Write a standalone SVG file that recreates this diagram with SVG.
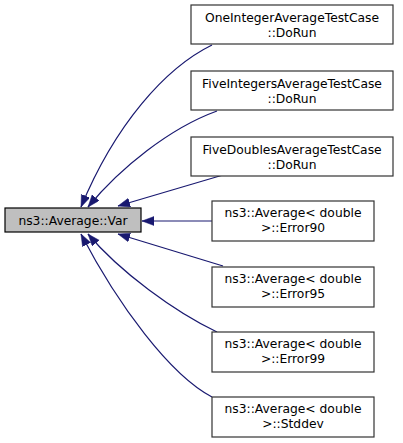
<svg xmlns="http://www.w3.org/2000/svg" width="403" height="443" viewBox="0 0 403 443">
<style>
.box{fill:#ffffff;stroke:#333333;stroke-width:1.2}
.main{fill:#bfbfbf;stroke:#000000;stroke-width:1.2}
text{font-family:"DejaVu Sans","Liberation Sans",sans-serif;font-size:12.3px;fill:#000000;text-anchor:middle}
.edge{fill:none;stroke:#191970;stroke-width:1.2;marker-end:url(#arr)}
</style>
<defs>
<marker id="arr" markerUnits="userSpaceOnUse" markerWidth="13" markerHeight="10" refX="12" refY="4.5" orient="auto">
<path d="M0,0 L12,4.5 L0,9 z" fill="#191970" stroke="#191970" stroke-width="0.5"/>
</marker>
</defs>
<rect width="403" height="443" fill="#ffffff"/>
<g id="edges">
<path class="edge" d="M212,45 C165,68 115,125 81,207"/>
<path class="edge" d="M217,111 C170,128 120,168 88,207"/>
<path class="edge" d="M223,175 L118,206"/>
<path class="edge" d="M212,221 L142,221"/>
<path class="edge" d="M223,266 L118,234"/>
<path class="edge" d="M217,332 C175,312 120,272 88,234"/>
<path class="edge" d="M212,397 C170,375 118,305 81,234"/>
</g>
<g id="node-main">
<rect class="main" x="5" y="208" width="136" height="24"/>
<text x="73" y="225">ns3::Average::Var</text>
</g>
<g id="node-1">
<rect class="box" x="191" y="5" width="202" height="39"/>
<text x="292" y="21.5">OneIntegerAverageTestCase</text>
<text x="292" y="36.5">::DoRun</text>
</g>
<g id="node-2">
<rect class="box" x="191" y="71" width="202" height="39"/>
<text x="292" y="87.5">FiveIntegersAverageTestCase</text>
<text x="292" y="102.5">::DoRun</text>
</g>
<g id="node-3">
<rect class="box" x="191" y="137" width="202" height="39"/>
<text x="292" y="153.5">FiveDoublesAverageTestCase</text>
<text x="292" y="168.5">::DoRun</text>
</g>
<g id="node-4">
<rect class="box" x="212" y="201" width="162" height="40"/>
<text x="293" y="216.5">ns3::Average&lt; double</text>
<text x="293" y="231.5">&gt;::Error90</text>
</g>
<g id="node-5">
<rect class="box" x="212" y="267" width="162" height="40"/>
<text x="293" y="282.5">ns3::Average&lt; double</text>
<text x="293" y="297.5">&gt;::Error95</text>
</g>
<g id="node-6">
<rect class="box" x="212" y="332" width="162" height="40"/>
<text x="293" y="347.5">ns3::Average&lt; double</text>
<text x="293" y="362.5">&gt;::Error99</text>
</g>
<g id="node-7">
<rect class="box" x="212" y="397" width="162" height="40"/>
<text x="293" y="412.5">ns3::Average&lt; double</text>
<text x="293" y="427.5">&gt;::Stddev</text>
</g>
</svg>
